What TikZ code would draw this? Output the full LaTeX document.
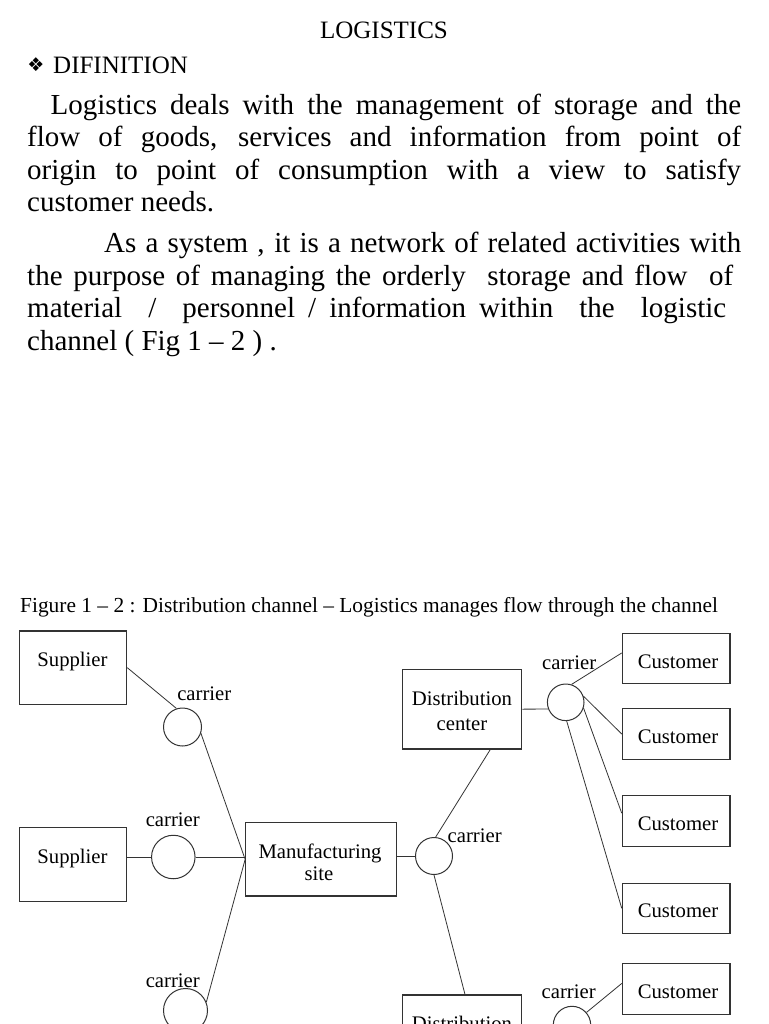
\documentclass[tikz,border=0pt]{standalone}
\usepackage{fontspec}
\setmainfont{Liberation Serif}
\newfontfamily\symfont{DejaVu Sans}
\begin{document}
\begin{tikzpicture}[x=1pt,y=-1pt,
  boxnode/.style={rectangle, draw=black!80, line width=1.1pt, inner sep=0pt},
  carrier/.style={circle, draw=black!80, line width=1pt, inner sep=0pt},
  conn/.style={draw=black!80, line width=0.8pt},
  txt/.style={anchor=base, inner sep=0pt, font=\fontsize{20.7}{24}\selectfont},
  body/.style={anchor=base west, inner sep=0pt, font=\fontsize{29}{32}\selectfont},
  head/.style={inner sep=0pt, font=\fontsize{25}{28}\selectfont}]
\useasboundingbox (0,0) rectangle (768,1024);
\clip (0,0) rectangle (768,1024);
\fill[white] (0,0) rectangle (768,1024);

% heading and text
\node[head, anchor=base] (title) at (384,38.3) {LOGISTICS};
\node[inner sep=0pt, font=\symfont\fontsize{19}{20}\selectfont] (bul) at (36,64.5) {❖};
\node[head, anchor=base west] (defn) at (53,74) {DIFINITION};

\node[body] (l1) at (50.5,114.5) {\makebox[690.5pt][s]{Logistics deals with the management of storage and the}};
\node[body] (l2) at (27,147) {\makebox[714pt][s]{flow of goods, services and information from point of}};
\node[body] (l3) at (27,179.5) {\makebox[714pt][s]{origin to point of consumption with a view to satisfy}};
\node[body] (l4) at (27,212) {customer needs.};
\node[body] (l5) at (104,252.7) {\makebox[637pt][s]{As a system , it is a network of related activities with}};
\node[body] (l6) at (27,285.2) {\makebox[706pt][s]{the purpose of managing the orderly\ \ storage and flow\ \ of}};
\node[body] (l7) at (27,317.7) {\makebox[699pt][s]{material\ \ /\ \ personnel / information within\ \ the\ \ logistic}};
\node[body] (l8) at (27,350.5) {channel ( Fig 1 – 2 ) .};

\node[anchor=base west, inner sep=0pt, font=\fontsize{21.4}{24}\selectfont] (cap) at (20,612)
  {Figure 1 – 2 : Distribution channel – Logistics manages flow through the channel};

% boxes
\node[boxnode, minimum width=107.4pt, minimum height=73.3pt] (sup1) at (73,667.65) {};
\node[boxnode, minimum width=107.4pt, minimum height=74pt] (sup2) at (73,864.7) {};
\node[boxnode, minimum width=151pt, minimum height=73.3pt] (mfg) at (321.2,859.35) {};
\node[boxnode, minimum width=119.4pt, minimum height=79.7pt] (dc1) at (462,709.15) {};
\node[boxnode, minimum width=119.4pt, minimum height=79.7pt] (dc2) at (462,1034.85) {};
\node[boxnode, minimum width=107.7pt, minimum height=50.5pt] (cu1) at (676.15,658.65) {};
\node[boxnode, minimum width=107.7pt, minimum height=50.5pt] (cu2) at (676.15,734) {};
\node[boxnode, minimum width=107.7pt, minimum height=50.5pt] (cu3) at (676.15,820.85) {};
\node[boxnode, minimum width=107.7pt, minimum height=50.5pt] (cu4) at (676.15,908.35) {};
\node[boxnode, minimum width=107.7pt, minimum height=50.5pt] (cu5) at (676.15,989.15) {};

% box texts
\node[txt] (tsup1) at (72.5,666.5) {Supplier};
\node[txt] (tsup2) at (72.5,863) {Supplier};
\node[txt] (tmfg1) at (320,858) {Manufacturing};
\node[txt] (tmfg2) at (319,880) {site};
\node[txt] (tdc1a) at (462,705) {Distribution};
\node[txt] (tdc1b) at (462,730.5) {center};
\node[txt] (tdc2a) at (462,1030.7) {Distribution};
\node[txt] (tcu1) at (678,668.2) {Customer};
\node[txt] (tcu2) at (678,743.5) {Customer};
\node[txt] (tcu3) at (678,830.4) {Customer};
\node[txt] (tcu4) at (678,917.9) {Customer};
\node[txt] (tcu5) at (678,998.7) {Customer};

% carriers
\node[carrier, minimum size=38pt] (c1) at (182.5,727) {};
\node[carrier, minimum size=43.5pt] (c2) at (173.3,857) {};
\node[carrier, minimum size=44pt] (c3) at (185.5,1010.5) {};
\node[carrier, minimum size=37pt] (c4) at (434,856) {};
\node[carrier, minimum size=36.6pt] (c5) at (565.7,702.3) {};
\node[carrier, minimum size=37.4pt] (c6) at (572,1025) {};

\node[txt] (lc1) at (204.3,700) {carrier};
\node[txt] (lc2) at (172.8,826) {carrier};
\node[txt] (lc3) at (172.8,987) {carrier};
\node[txt] (lc4) at (474.7,842.7) {carrier};
\node[txt] (lc5) at (569.2,669) {carrier};
\node[txt] (lc6) at (568.7,998) {carrier};

% connectors
\draw[conn] (sup1.east) -- (c1.108);
\draw[conn] (c1.-19) -- (mfg.west);
\draw[conn] (sup2.east |- c2) -- (c2);
\draw[conn] (c2) -- (mfg.west |- c2);
\draw[conn] (c3.22) -- (mfg.west);
\draw[conn] (mfg.east |- c4) -- (c4);
\draw[conn] (c4.85) -- (dc1.-55);
\draw[conn] (c4.-90) -- ([xshift=3pt]dc2.north);
\draw[conn] (dc1.east) -- (c5.201);
\draw[conn] (c5.72) -- (cu1.174);
\draw[conn] (c5.19) -- (cu2.west);
\draw[conn] (c5.-18) -- (cu3.172);
\draw[conn] (c5.-87) -- (cu4.west);
\draw[conn] (c6.41) -- (cu5.174);
\end{tikzpicture}
\end{document}
